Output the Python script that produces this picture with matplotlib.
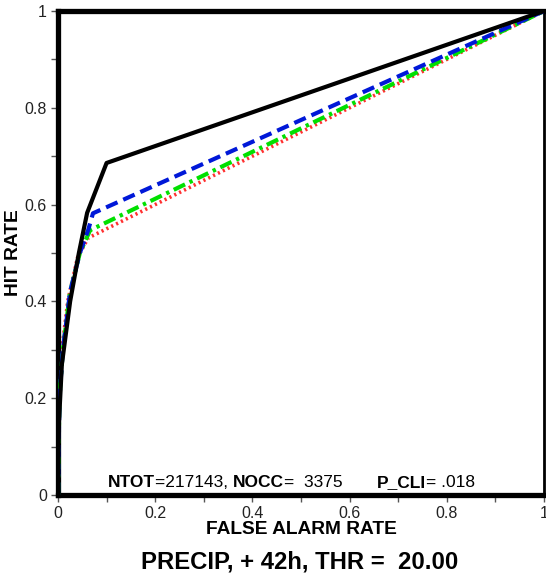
#!/usr/bin/env python
# coding: utf-8

import matplotlib
matplotlib.use("Agg")
import matplotlib.pyplot as plt
from matplotlib.ticker import MultipleLocator

plt.rcParams['font.family'] = ['Liberation Sans', 'DejaVu Sans']

# ROC points (false alarm rate, hit rate)
far_black = [0.0, 0.002, 0.008, 0.025, 0.043, 0.06, 0.10, 1.0]
hr_black = [0.0, 0.15, 0.27, 0.40, 0.50, 0.583, 0.686, 1.0]

far_blue = [0.0, 0.003, 0.01, 0.025, 0.045, 0.062, 0.072, 1.0]
hr_blue = [0.0, 0.20, 0.30, 0.42, 0.50, 0.547, 0.582, 1.0]

far_green = [0.0, 0.003, 0.01, 0.025, 0.045, 0.066, 1.0]
hr_green = [0.0, 0.20, 0.30, 0.42, 0.50, 0.547, 1.0]

far_red = [0.0, 0.002, 0.008, 0.02, 0.04, 0.062, 1.0]
hr_red = [0.0, 0.22, 0.30, 0.40, 0.49, 0.531, 1.0]

ticks = [0, 0.2, 0.4, 0.6, 0.8, 1.0]
tick_labels = ["0", "0.2", "0.4", "0.6", "0.8", "1"]

# stats line pieces: (text, bold)
stats = [("NTOT", True), ("=217143, ", False),
         ("NOCC", True), ("=  3375       ", False),
         ("P_CLI", True), ("= .018", False)]

fig = plt.figure(figsize=(5.46, 5.79), dpi=100)
ax = fig.add_axes([0.1062, 0.1451, 0.8901, 0.8359])

ax.plot(far_red, hr_red, color='#ff3030', lw=2.6, ls=(0, (0.6, 0.9)), zorder=2)
ax.plot(far_green, hr_green, color='#00e000', lw=3, ls=(0, (3, 1.2, 0.8, 1.2)), zorder=3)
ax.plot(far_blue, hr_blue, color='#0018d8', lw=3, ls=(0, (3, 1.5)), zorder=4)
ax.plot(far_black, hr_black, color='black', lw=3, zorder=5)

ax.set_xlim(0, 1)
ax.set_ylim(0, 1)
ax.set_xticks(ticks)
ax.set_xticklabels(tick_labels)
ax.set_yticks(ticks)
ax.set_yticklabels(tick_labels)
ax.xaxis.set_minor_locator(MultipleLocator(0.1))
ax.yaxis.set_minor_locator(MultipleLocator(0.1))
ax.tick_params(which='both', direction='out', length=5, width=1, color='#555555',
               labelsize=11.5, labelcolor='#222222', pad=3)

for side in ['left', 'bottom', 'top']:
    ax.spines[side].set_linewidth(3.8)
ax.spines['right'].set_linewidth(2)

ax.set_xlabel("FALSE ALARM RATE", fontsize=13.8, fontweight='bold', labelpad=0)
ax.set_ylabel("HIT RATE", fontsize=13.8, fontweight='bold', labelpad=2)

# chain the stats pieces one after another
prev = None
for txt, bold in stats:
    weight = 'bold' if bold else 'normal'
    if prev is None:
        prev = ax.text(0.103, 0.011, txt, transform=ax.transAxes, ha='left',
                       va='bottom', fontsize=12.5, fontweight=weight)
    else:
        prev = ax.annotate(txt, xy=(1, 0), xycoords=prev, ha='left', va='bottom',
                           fontsize=12.5, fontweight=weight)

fig.text(0.548, 0.0285, "PRECIP, + 42h, THR =  20.00", ha='center', va='center',
         fontsize=17.2, fontweight='bold')

fig.savefig("out.png", dpi=100)
